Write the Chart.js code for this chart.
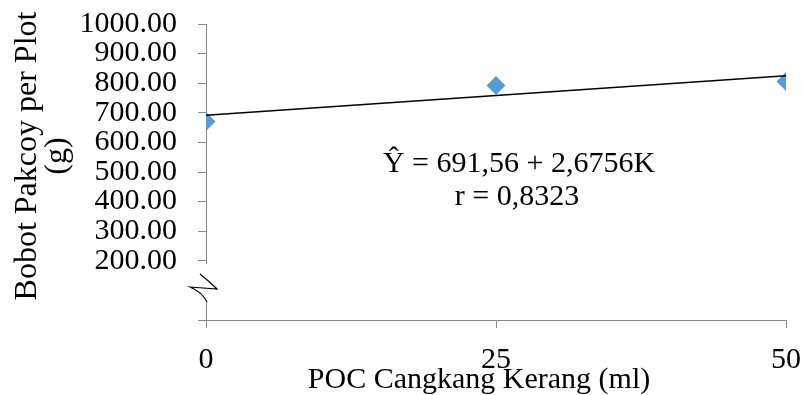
<!DOCTYPE html>
<html>
<head>
<meta charset="utf-8">
<script src="https://cdn.jsdelivr.net/npm/chart.js@4.4.1/dist/chart.umd.min.js"></script>
<style>
  html, body { margin: 0; padding: 0; background: #fff; }
  #wrap { width: 804px; height: 395px; position: relative; }
</style>
</head>
<body>
<div id="wrap"><canvas id="chart"></canvas></div>
<script>
// Data
const doses = [0, 25, 50];              // POC Cangkang Kerang (ml)
const weights = [671, 792, 806];        // Bobot Pakcoy per Plot (g)
const trendX = [0, 50];
const trendY = [691.56, 825.34];        // Ŷ = 691,56 + 2,6756K at the ends
const xTicks = [0, 25, 50];
const yTicks = [0, 100, 200, 300, 400, 500, 600, 700, 800, 900, 1000];
const equationLines = ['\u0176 = 691,56 + 2,6756K', 'r = 0,8323'];
const yTitleLines = ['Bobot Pakcoy per Plot', '(g)'];
const xTitle = 'POC Cangkang Kerang (ml)';

const FONT = '"Liberation Serif", "Times New Roman", serif';
const AXIS_GRAY = '#898989';

// axis break on the y axis plus the free text labels
const extrasPlugin = {
  id: 'extras',
  afterDraw(chart) {
    const ctx = chart.ctx;
    const area = chart.chartArea;
    const x0 = area.left;
    ctx.save();
    // break symbol
    ctx.fillStyle = '#fff';
    ctx.fillRect(x0 - 3, 264, 6, 38);
    ctx.strokeStyle = '#000';
    ctx.lineWidth = 1.2;
    ctx.beginPath();
    ctx.moveTo(x0 - 6, 274);
    ctx.quadraticCurveTo(x0 + 4, 282, x0 + 11, 289);
    ctx.lineTo(x0 - 16, 287);
    ctx.quadraticCurveTo(x0 - 4, 292, x0 + 1, 302);
    ctx.stroke();

    ctx.fillStyle = '#000';
    ctx.font = '30px ' + FONT;
    ctx.textAlign = 'center';
    ctx.textBaseline = 'alphabetic';
    // regression text
    ctx.fillText(equationLines[0], 519, 172);
    ctx.fillText(equationLines[1], 517, 205);
    // x title
    ctx.fillText(xTitle, 479, 388);
    // y title
    ctx.font = '32px ' + FONT;
    ctx.save();
    ctx.translate(36, 156);
    ctx.rotate(-Math.PI / 2);
    ctx.fillText(yTitleLines[0], 0, 0);
    ctx.fillText(yTitleLines[1], 0, 30);
    ctx.restore();
    ctx.restore();
  }
};

const ctx = document.getElementById('chart').getContext('2d');
const chart = new Chart(ctx, {
  type: 'scatter',
  data: {
    datasets: [
      {
        type: 'line',
        label: 'Trend',
        data: trendX.map((x, i) => ({ x: x, y: trendY[i] })),
        borderColor: '#000',
        borderWidth: 1.5,
        pointRadius: 0,
        fill: false,
        order: 0
      },
      {
        label: 'Bobot',
        data: doses.map((x, i) => ({ x: x, y: weights[i] })),
        pointStyle: 'rectRot',
        pointRadius: 9.5,
        pointHoverRadius: 9.5,
        backgroundColor: '#5B9BD5',
        borderWidth: 0,
        order: 1
      }
    ]
  },
  options: {
    responsive: true,
    maintainAspectRatio: false,
    animation: false,
    layout: { padding: { top: 24, right: 18, left: 0, bottom: 0 } },
    plugins: {
      legend: { display: false },
      tooltip: { enabled: false }
    },
    scales: {
      x: {
        type: 'linear',
        min: 0,
        max: 50,
        afterFit: function(scale) {
          scale.height = 75;
          scale.paddingLeft = 0;
          scale.paddingRight = 0;
        },
        afterBuildTicks: function(scale) {
          scale.ticks = xTicks.map(v => ({ value: v }));
        },
        ticks: {
          color: '#000',
          padding: 14,
          autoSkip: false,
          font: { family: FONT, size: 30 },
          maxRotation: 0
        },
        grid: {
          drawOnChartArea: false,
          tickLength: 8,
          color: AXIS_GRAY
        },
        border: { color: AXIS_GRAY, width: 1 },
        title: { display: false }
      },
      y: {
        type: 'linear',
        min: 0,
        max: 1000,
        afterFit: function(scale) {
          scale.width = 206;
          scale.paddingTop = 0;
          scale.paddingBottom = 0;
        },
        afterBuildTicks: function(scale) {
          scale.ticks = yTicks.map(v => ({ value: v }));
        },
        ticks: {
          color: '#000',
          padding: 21,
          autoSkip: false,
          font: { family: FONT, size: 30 },
          callback: function(value) {
            return value < 200 ? '' : value.toFixed(2);
          }
        },
        grid: {
          drawOnChartArea: false,
          tickLength: 8,
          color: function(c) {
            return c.tick && c.tick.value === 100 ? 'rgba(0,0,0,0)' : AXIS_GRAY;
          }
        },
        border: { color: AXIS_GRAY, width: 1 },
        title: { display: false }
      }
    }
  },
  plugins: [extrasPlugin]
});
</script>
</body>
</html>
